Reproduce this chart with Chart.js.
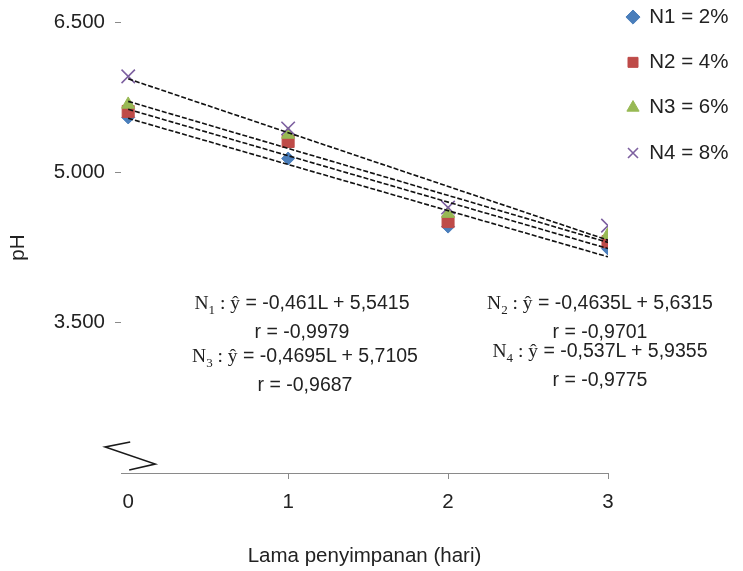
<!DOCTYPE html>
<html lang="id">
<head>
<meta charset="UTF-8">
<title>pH selama penyimpanan</title>
<script src="https://cdn.jsdelivr.net/npm/chart.js"></script>
<style>
    body {
        margin: 0;
        background: #fff;
        font-family: "Liberation Sans", Arial, sans-serif;
    }
    .wrap {
        position: relative;
        width: 743px;
        height: 571px;
    }
    .note {
        position: absolute;
        width: 320px;
        margin-left: -160px;
        text-align: center;
        font-size: 19.5px;
        line-height: 28px;
        color: #222;
        white-space: nowrap;
    }
    .note .n {
        font-family: "Liberation Serif", "Times New Roman", serif;
    }
    .note sub {
        font-size: 13px;
        line-height: 0;
    }
</style>
</head>
<body>
<div class="wrap">
    <canvas id="phChart" width="743" height="571"></canvas>
    <div id="notes"></div>
</div>
<script>
// lama penyimpanan (hari)
const days = [0, 1, 2, 3];
const seriesNames = ['N1 = 2%', 'N2 = 4%', 'N3 = 6%', 'N4 = 8%'];
// pH tiap perlakuan
const n1 = [5.55, 5.14, 4.46, 4.24];
const n2 = [5.61, 5.31, 4.51, 4.31];
const n3 = [5.68, 5.38, 4.59, 4.38];
const n4 = [5.96, 5.44, 4.65, 4.47];
// persamaan regresi yang tertulis di grafik
const slopes = [-0.461, -0.4635, -0.4695, -0.537];
const intercepts = [5.5415, 5.6315, 5.7105, 5.9355];
const rValues = [-0.9979, -0.9701, -0.9687, -0.9775];
const yTicks = [2, 3.5, 5, 6.5];
const yTickLabels = ['', '3.500', '5.000', '6.500'];
const xTickLabels = ['0', '1', '2', '3'];

const series = [n1, n2, n3, n4];
const styles = [
    { point: 'rectRot', r: 6.5, fill: '#4a7ebb', line: '#4a7ebb', w: 1 },
    { point: 'rect', r: 8.5, fill: '#be4b48', line: '#be4b48', w: 1 },
    { point: 'triangle', r: 7.5, fill: '#98b954', line: '#98b954', w: 1 },
    { point: 'crossRot', r: 9.5, fill: '#7d60a0', line: '#7d60a0', w: 1.6 }
];
const textColor = '#222';
const font = { family: '"Liberation Sans", Arial, sans-serif', size: 20.5 };

function comma(v) {
    return String(v).replace('.', ',');
}

// titik data
const datasets = series.map((vals, i) => ({
    label: seriesNames[i],
    data: days.map((d, j) => ({ x: d, y: vals[j] })),
    pointStyle: styles[i].point,
    pointRadius: styles[i].r,
    pointHoverRadius: styles[i].r,
    backgroundColor: styles[i].fill,
    borderColor: styles[i].line,
    pointBorderWidth: styles[i].w,
    showLine: false,
    order: 4 - i + 1
}));

// garis regresi (putus-putus)
slopes.forEach((b, i) => {
    const a = intercepts[i];
    const first = days[0], last = days[days.length - 1];
    datasets.push({
        label: 'trend',
        data: [{ x: first, y: a + b * first }, { x: last, y: a + b * last }],
        borderColor: '#111',
        borderWidth: 1.6,
        borderDash: [5, 2],
        pointRadius: 0,
        showLine: true,
        order: 0
    });
});

// posisi legend diatur manual supaya sama dengan gambar asli
const legendPlace = {
    id: 'legendPlace',
    afterLayout(chart) {
        chart.legend.left = 602.2;
        chart.legend.top = -18;
    }
};

// tanda patahan sumbu y
const axisBreak = {
    id: 'axisBreak',
    afterDraw(chart) {
        const x0 = chart.scales.x.getPixelForValue(0);
        const yb = chart.chartArea.bottom;
        const ctx = chart.ctx;
        ctx.save();
        ctx.strokeStyle = '#1a1a1a';
        ctx.lineWidth = 1.6;
        ctx.beginPath();
        ctx.moveTo(x0 + 2, yb - 31);
        ctx.lineTo(x0 - 23, yb - 26);
        ctx.lineTo(x0 + 27, yb - 9);
        ctx.lineTo(x0 + 1, yb - 3);
        ctx.stroke();
        ctx.restore();
    }
};

const ctx = document.getElementById('phChart').getContext('2d');
const phChart = new Chart(ctx, {
    type: 'scatter',
    data: { datasets: datasets },
    options: {
        responsive: false,
        animation: false,
        layout: { padding: { left: 6, right: 0, top: 18, bottom: 0 } },
        plugins: {
            tooltip: { enabled: false },
            legend: {
                position: 'right',
                align: 'start',
                maxWidth: 135,
                labels: {
                    usePointStyle: true,
                    boxWidth: 12,
                    boxHeight: 10,
                    padding: 24.8,
                    color: textColor,
                    font: font,
                    filter: item => item.text !== 'trend',
                    sort: (a, b) => a.datasetIndex - b.datasetIndex
                }
            }
        },
        scales: {
            x: {
                type: 'linear',
                min: -0.045,
                max: 3,
                afterBuildTicks: scale => {
                    scale.ticks = days.map(v => ({ value: v }));
                },
                afterFit: scale => {
                    scale.height = 571 - 473;
                },
                ticks: {
                    color: textColor,
                    font: font,
                    padding: 11,
                    maxRotation: 0,
                    callback: (v, i) => xTickLabels[i]
                },
                grid: {
                    drawOnChartArea: false,
                    tickLength: 6,
                    color: c => (c.tick && c.tick.value === 0) ? 'rgba(0,0,0,0)' : '#8a8a8a'
                },
                border: { display: true, color: '#8a8a8a', width: 1 },
                title: {
                    display: true,
                    text: 'Lama penyimpanan (hari)',
                    color: textColor,
                    font: font,
                    padding: { top: 4, bottom: 2 }
                }
            },
            y: {
                min: 2,
                max: 6.5,
                afterBuildTicks: scale => {
                    scale.ticks = yTicks.map(v => ({ value: v }));
                },
                afterFit: scale => {
                    scale.width = 121 - 6;
                },
                ticks: {
                    color: textColor,
                    font: font,
                    padding: 10,
                    callback: (v, i) => yTickLabels[i]
                },
                grid: {
                    drawOnChartArea: false,
                    tickLength: 6,
                    color: c => (c.tick && c.tick.value === 2) ? 'rgba(0,0,0,0)' : '#8a8a8a'
                },
                border: { display: false },
                title: {
                    display: true,
                    text: 'pH',
                    color: textColor,
                    font: font,
                    padding: 0
                }
            }
        }
    },
    plugins: [legendPlace, axisBreak]
});

// catatan persamaan regresi
const notePlaces = [[302, 288], [600, 288], [305, 341], [600, 336]];
const notes = document.getElementById('notes');
slopes.forEach((b, i) => {
    const div = document.createElement('div');
    div.className = 'note';
    div.style.left = notePlaces[i][0] + 'px';
    div.style.top = notePlaces[i][1] + 'px';
    div.innerHTML = '<span class="n">N<sub>' + (i + 1) + '</sub> : ŷ</span> = ' + comma(b) + 'L + ' +
        comma(intercepts[i]) + '<br>r = ' + comma(rValues[i]);
    notes.appendChild(div);
});
</script>
</body>
</html>
